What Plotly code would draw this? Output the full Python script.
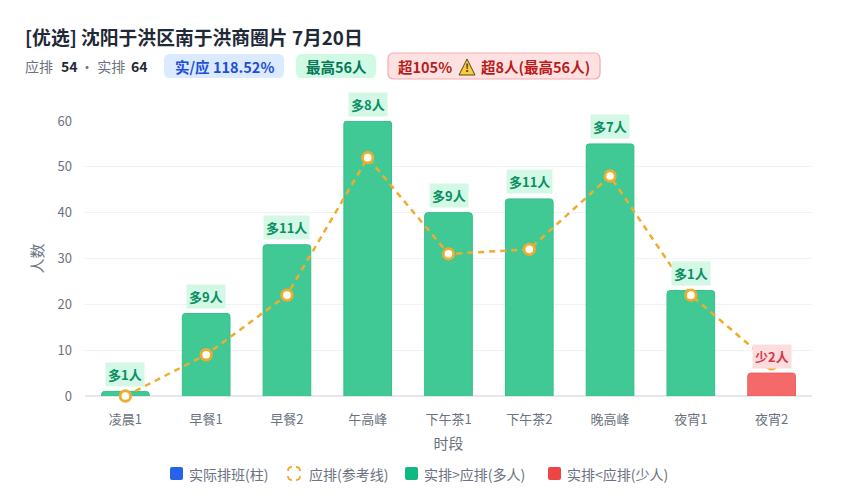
import plotly.graph_objects as go

# data
slots = ['凌晨1', '早餐1', '早餐2', '午高峰', '下午茶1', '下午茶2', '晚高峰', '夜宵1', '夜宵2']
actual = [1, 18, 33, 60, 40, 43, 55, 23, 5]
planned = [0, 9, 22, 52, 31, 32, 48, 22, 7]
diff_labels = ['多1人', '多9人', '多11人', '多8人', '多9人', '多11人', '多7人', '多1人', '少2人']
y_ticks = [0, 10, 20, 30, 40, 50, 60]

FONT = 'Noto Sans CJK SC'
GREEN = '#41C995'
GREEN_EDGE = '#34BE8B'
RED = '#F46A6A'
RED_EDGE = '#E86060'
ORANGE = '#F0AC2E'

# the page body has an 8px margin, so the figure sits at (8, 8)
WIDTH, HEIGHT = 828, 484
LEFT, RIGHT, TOP, BOTTOM = 85, 812, 121, 396


def px(x):
    return (x - LEFT) / (RIGHT - LEFT)


def py(y):
    return (BOTTOM - y) / (BOTTOM - TOP)


def round_box(x0, y0, x1, y1, r, fill, line=None):
    a, b, c, d = px(x0), px(x1), py(y0), py(y1)
    rx, ry = r / (RIGHT - LEFT), r / (BOTTOM - TOP)
    path = (f'M {a + rx} {c} L {b - rx} {c} Q {b} {c} {b} {c - ry} L {b} {d + ry} Q {b} {d} {b - rx} {d} '
            f'L {a + rx} {d} Q {a} {d} {a} {d + ry} L {a} {c - ry} Q {a} {c} {a + rx} {c} Z')
    return dict(type='path', xref='paper', yref='paper', path=path, fillcolor=fill,
                line=dict(color=line or fill, width=1.2 if line else 0))


def corner_box(x0, y0, x1, y1, arm, color):
    # dashed legend swatch: only the corners are drawn
    a, b, c, d = px(x0), px(x1), py(y0), py(y1)
    ax, ay = arm / (RIGHT - LEFT), arm / (BOTTOM - TOP)
    path = (f'M {a} {c - ay} Q {a} {c} {a + ax} {c} M {b - ax} {c} Q {b} {c} {b} {c - ay} '
            f'M {b} {d + ay} Q {b} {d} {b - ax} {d} M {a + ax} {d} Q {a} {d} {a} {d + ay}')
    return dict(type='path', xref='paper', yref='paper', path=path, line=dict(color=color, width=1.8))


def text(x, y, s, size=14, color='#1f2937', anchor='left'):
    return dict(xref='paper', yref='paper', x=px(x), y=py(y), text=s, showarrow=False,
                xanchor=anchor, yanchor='middle', align=anchor,
                font=dict(family=FONT, size=size, color=color))


fig = go.Figure()

fig.add_trace(go.Bar(
    x=slots, y=actual, width=0.59,
    marker=dict(color=[GREEN if a >= p else RED for a, p in zip(actual, planned)],
                line=dict(color=[GREEN_EDGE if a >= p else RED_EDGE for a, p in zip(actual, planned)], width=1),
                cornerradius=3),
    showlegend=False, cliponaxis=False,
))
fig.add_trace(go.Scatter(
    x=slots, y=planned, mode='lines+markers', cliponaxis=False,
    line=dict(color=ORANGE, width=2.5, dash='6px,5px'),
    marker=dict(color='white', size=10.5, line=dict(color=ORANGE, width=2.8)),
    showlegend=False,
))

annotations = []

# labels above the bars
for slot, a, p, label in zip(slots, actual, planned, diff_labels):
    more = a >= p
    annotations.append(dict(
        x=slot, y=a, xref='x', yref='y', yshift=17, text=f'<b>{label}</b>', showarrow=False,
        font=dict(family=FONT, size=13, color='#0A8F63' if more else '#D43A44'),
        bgcolor='#D3F8E6' if more else '#FBDDE0', borderpad=2,
    ))

# header
annotations += [
    text(23, 36, '<b>[优选] 沈阳于洪区南于洪商圈片 7月20日</b>', size=18.8, color='#1f2937'),
    text(23, 66, '应排', color='#6b7280'),
    text(59, 66, '<b>54</b>'),
    text(78, 66, '· 实排', color='#6b7280'),
    text(129, 66, '<b>64</b>'),
    text(224, 66, '<b>实/应 118.52%</b>', size=14.5, color='#1D4ED8', anchor='center'),
    text(336, 66, '<b>最高56人</b>', size=14.5, color='#047857', anchor='center'),
    text(396, 66, '<b>超105%</b>', size=14.5, color='#B91C1C'),
    text(467, 67, '<b>!</b>', size=11, color='#3f3f1f', anchor='center'),
    text(479, 66, '<b>超8人(最高56人)</b>', size=14.5, color='#B91C1C'),
]

# legend
annotations += [
    text(187, 474, '实际排班(柱)', color='#6b7280'),
    text(307, 474, '应排(参考线)', color='#6b7280'),
    text(422, 474, '实排&gt;应排(多人)', color='#6b7280'),
    text(565, 474, '实排&lt;应排(少人)', color='#6b7280'),
]

shapes = [
    round_box(164, 54, 284, 78, 6, '#DBEAFE'),
    round_box(296, 54, 376, 78, 6, '#D1FAE5'),
    round_box(388, 53, 600, 79, 6, '#FEE2E2', line='#F5A9AE'),
    dict(type='path', xref='paper', yref='paper',
         path=f'M {px(467)} {py(59)} L {px(475)} {py(75)} L {px(459)} {py(75)} Z',
         fillcolor='#FFC93C', line=dict(color='#4b4b2a', width=1)),
    round_box(170, 467, 183, 480, 2, '#2563EB'),
    corner_box(288, 467, 300, 480, 4, ORANGE),
    round_box(405, 467, 418, 480, 2, '#10B981'),
    round_box(548, 467, 561, 480, 2, '#EF4444'),
]

fig.update_layout(
    width=WIDTH, height=HEIGHT, autosize=False,
    margin=dict(l=LEFT - 8, r=WIDTH + 8 - RIGHT, t=TOP - 8, b=HEIGHT + 8 - BOTTOM, pad=0),
    paper_bgcolor='white', plot_bgcolor='white',
    font=dict(family=FONT, size=12, color='#6b7280'),
    annotations=annotations, shapes=shapes,
    xaxis=dict(title=dict(text='时段', font=dict(size=15, color='#6b7280'), standoff=11),
               type='category', categoryorder='array', categoryarray=slots, range=[-0.5, 8.5],
               showgrid=False, showline=False, zeroline=False, ticks='', ticklabelstandoff=14,
               tickfont=dict(size=13, color='#6b7280')),
    yaxis=dict(title=dict(text='人数', font=dict(size=15, color='#6b7280'), standoff=10),
               range=[0, 60], tickvals=y_ticks, gridcolor='#f1f2f6', gridwidth=1,
               zeroline=True, zerolinecolor='#e5e7eb', zerolinewidth=1.5, showline=False, ticks='',
               ticklabelstandoff=12, tickfont=dict(size=13, color='#6b7280')),
)

fig.write_html("out.html")
